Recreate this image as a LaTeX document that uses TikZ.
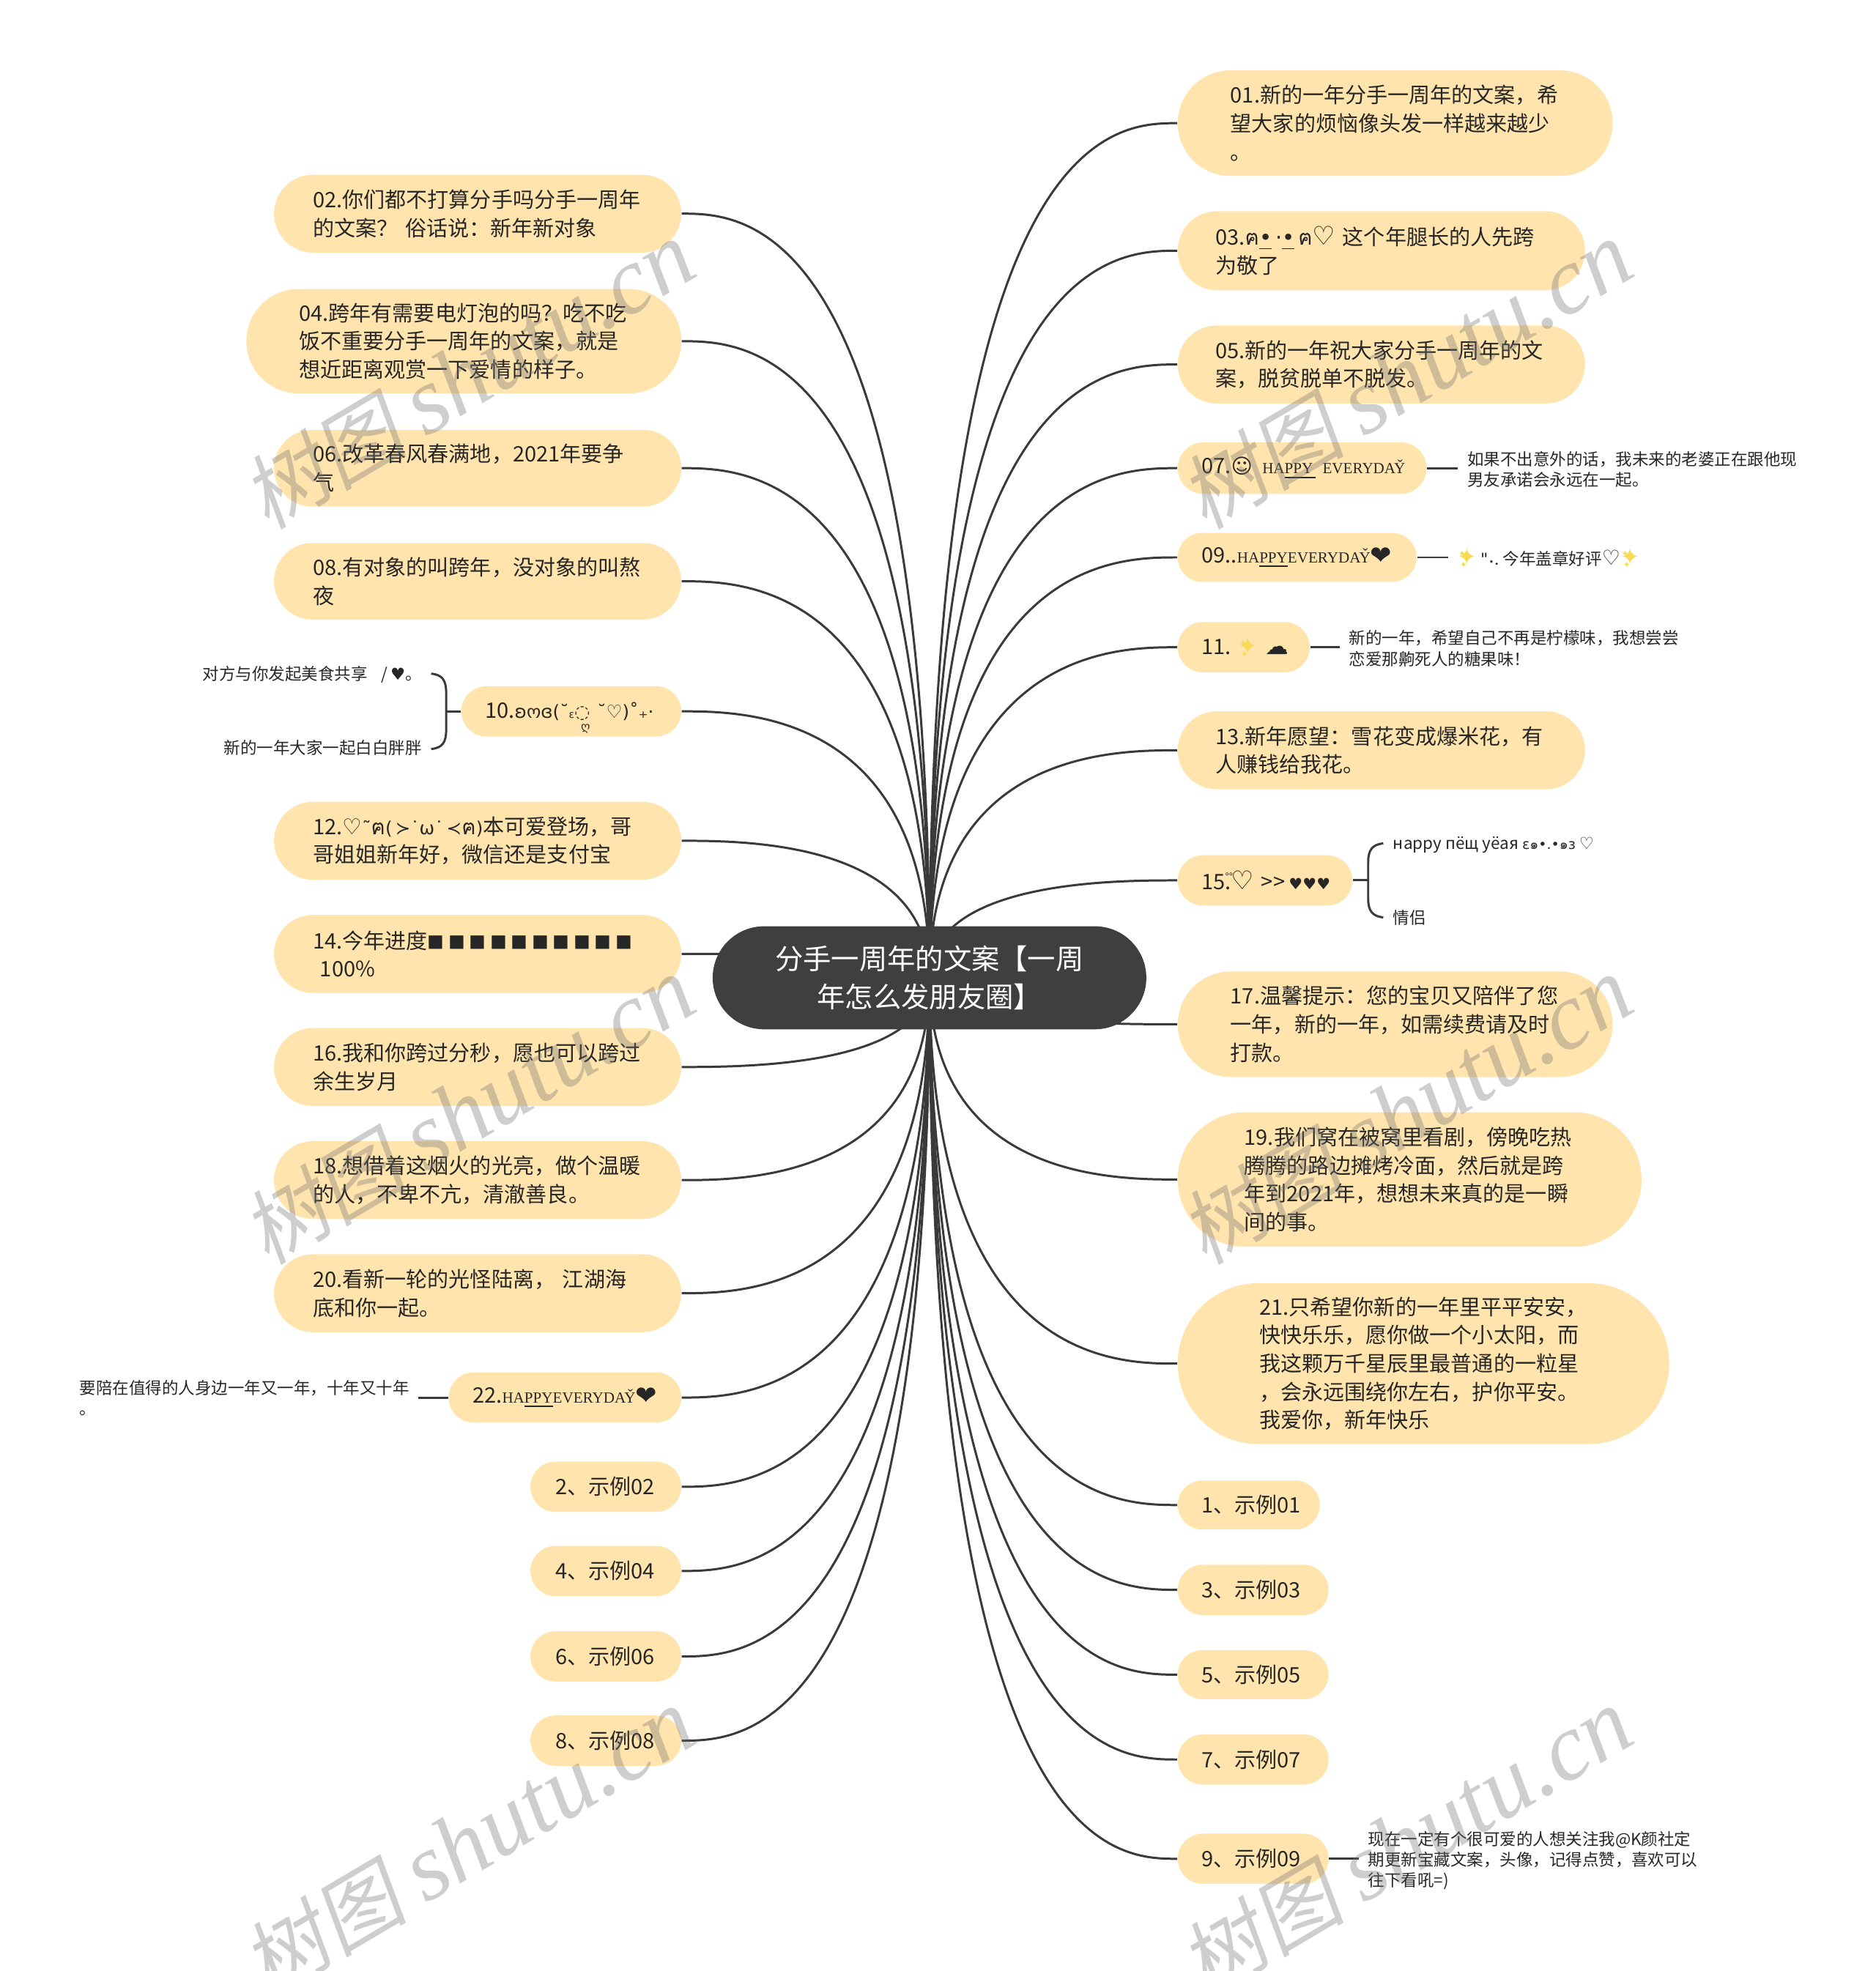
\documentclass[tikz,border=0pt]{standalone}
\usepackage{fontspec}
\usepackage{xcolor}
\setmainfont{Noto Sans CJK SC}
\newfontfamily\symf{DejaVu Sans}
\newfontfamily\thaif[Script=Thai]{Loma}
\newfontfamily\serf{Liberation Serif}
\newfontfamily\markcjk[FakeSlant=0.18]{Noto Sans CJK SC}
\newfontfamily\marklat{Liberation Serif}
\usetikzlibrary{arrows.meta,positioning,calc,backgrounds,shapes.misc}
\definecolor{pillfill}{HTML}{FFE4AD}
\definecolor{rootfill}{HTML}{3F3F3F}
\definecolor{wire}{HTML}{3A3A3A}
\definecolor{ink}{HTML}{262626}
\definecolor{sparkle}{HTML}{F7DB55}
\def\un{0.17158mm}
\newcommand{\spark}{{\color{sparkle}\symf\fontsize{9}{8}\selectfont ✦\llap{\raisebox{3pt}{\fontsize{3.5}{3}\selectfont ✦\kern4.2pt}}\llap{\raisebox{-1.2pt}{\fontsize{3.5}{3}\selectfont ✦\kern3.6pt}}}}
\newcommand{\happy}[1]{{\serf\fontsize{6}{7}\selectfont #1}}
\newcommand{\hrt}{{\symf\fontsize{10}{8}\selectfont ♡}}
\newcommand{\blk}{{\fontsize{6.5}{8}\selectfont ■\kern1.6pt}}
\newcommand{\bigheart}{\raisebox{-0.7pt}{\symf\fontsize{10}{8}\selectfont ❤}}
\begin{document}
\begin{tikzpicture}[
  x={(0.17158mm,0mm)},
  y={(0mm,-0.17158mm)},
  pill/.style n args={3}{rounded rectangle, fill=pillfill, text=ink, inner sep=0pt,
    text width={(#1-2*#3)*\un}, minimum width={#1*\un}, minimum height={#2*\un}, align=left,
    font=\fontsize{8.27}{11}\selectfont},
  rootpill/.style={rounded rectangle, fill=rootfill, text=white, inner sep=0pt,
    text width={263*\un}, minimum width={345*\un}, minimum height={82*\un}, align=center,
    font=\fontsize{10.9}{14.6}\selectfont},
  leaf/.style={text=ink, inner ysep=0pt, inner xsep={7*\un}, anchor=west, align=left,
    font=\fontsize{6.4}{8.05}\selectfont},
  conn/.style={draw=wire, line width=0.85pt},
  stamp/.style={text=black!55, opacity=0.35, rotate=30.6, inner sep=0pt}
]
\useasboundingbox (0,0) rectangle (1492,1568.3);

\node[rootpill] (root) at (739.5,778) {分手一周年的文案【一周\\年怎么发朋友圈】};

% right side
\node[pill={346}{84}{42}] (r01) at (1110,98) {01.新的一年分手一周年的文案，希\\望大家的烦恼像头发一样越来越少\\。};
\node[pill={324}{63}{30}] (r03) at (1099,199.5) {03.{\thaif ฅ}{\symf\underline{•}\,·\underline{•}}\,{\thaif ฅ}\hrt~这个年腿长的人先跨\\为敬了};
\node[pill={324}{62}{30}] (r05) at (1099,290) {05.新的一年祝大家分手一周年的文\\案，脱贫脱单不脱发。};
\node[pill={198}{41}{19}] (r07) at (1036,372.5) {\mbox{07.{\symf\fontsize{8}{8}\selectfont ☺}\hspace{1pt}~\happy{HA\underline{PPY\,}~EVERYDA\v{Y}}}};
\node[pill={190}{39}{19}] (r09) at (1032,443.5) {\mbox{09..\happy{HA\underline{PPY}EVERYDA\v{Y}}\bigheart}};
\node[pill={105}{40}{19}] (r11) at (989.5,515) {\mbox{11.~\spark\hspace{3pt}{\symf\fontsize{9}{8}\selectfont ☁}}};
\node[pill={324}{62}{30}] (r13) at (1099,597) {13.新年愿望：雪花变成爆米花，有\\人赚钱给我花。};
\node[pill={139}{40}{19}] (r15) at (1006.5,700.5) {\mbox{15\rlap{\raisebox{3.5pt}{\fontsize{4}{4}\selectfont °°}}.\hrt~>{}>\hspace{1.5pt}{\symf\fontsize{6}{8}\selectfont ♥♥♥}}};
\node[pill={346}{84}{42}] (r17) at (1110,815) {17.温馨提示：您的宝贝又陪伴了您\\一年，新的一年，如需续费请及时\\打款。};
\node[pill={369}{107}{53}] (r19) at (1121.5,938.5) {19.我们窝在被窝里看剧，傍晚吃热\\腾腾的路边摊烤冷面，然后就是跨\\年到2021年，想想未来真的是一瞬\\间的事。};
\node[pill={391}{128}{65}] (r21) at (1132.5,1085) {21.只希望你新的一年里平平安安，\\快快乐乐，愿你做一个小太阳，而\\我这颗万千星辰里最普通的一粒星\\，会永远围绕你左右，护你平安。\\我爱你，新年快乐};
\node[pill={113}{39}{19}] (r23) at (993.5,1197.5) {1、示例01};
\node[pill={120}{40}{19}] (r24) at (997,1265) {3、示例03};
\node[pill={120}{39}{19}] (r25) at (997,1332.5) {5、示例05};
\node[pill={120}{40}{19}] (r26) at (997,1400) {7、示例07};
\node[pill={120}{40}{19}] (r27) at (997,1479) {9、示例09};

% left side
\node[pill={324}{62}{31}] (l02) at (380,170) {02.你们都不打算分手吗分手一周年\\的文案？~俗话说：新年新对象};
\node[pill={346}{83}{42}] (l04) at (369,271.5) {04.跨年有需要电灯泡的吗？吃不吃\\饭不重要分手一周年的文案，就是\\想近距离观赏一下爱情的样子。};
\node[pill={324}{61}{31}] (l06) at (380,372.5) {06.改革春风春满地，2021年要争\\气};
\node[pill={324}{61}{31}] (l08) at (380,462.5) {08.有对象的叫跨年，没对象的叫熬\\夜};
\node[pill={175}{40}{19}] (l10) at (454.5,566) {\mbox{10.{\symf\fontsize{7}{8}\selectfont ʚოɞ(˘{\fontsize{4}{4}\selectfont ε}◌\llap{\raisebox{-5pt}[0pt][0pt]{\fontsize{4.5}{4}\selectfont ღ}}~˘♡)˚₊·}}};
\node[pill={324}{62}{31}] (l12) at (380,669) {12.{\symf\fontsize{8.5}{8}\selectfont ♡}{\symf\fontsize{7}{8}\selectfont ˜}{\thaif ฅ}{\symf\fontsize{7}{8}\selectfont (\,≻˙ω˙\,≺}{\thaif ฅ}{\symf\fontsize{7}{8}\selectfont )}本可爱登场，哥\\哥姐姐新年好，微信还是支付宝};
\node[pill={324}{62}{31}] (l14) at (380,759) {14.今年进度\blk\blk\blk\blk\blk\blk\blk\blk\blk\blk\\~100\%};
\node[pill={324}{62}{31}] (l16) at (380,849) {16.我和你跨过分秒，愿也可以跨过\\余生岁月};
\node[pill={324}{62}{31}] (l18) at (380,939) {18.想借着这烟火的光亮，做个温暖\\的人，不卑不亢，清澈善良。};
\node[pill={324}{62}{31}] (l20) at (380,1029) {20.看新一轮的光怪陆离，~江湖海\\底和你一起。};
\node[pill={185}{40}{19}] (l22) at (449.5,1112) {\mbox{22.\happy{HA\underline{PPY}EVERYDA\v{Y}}\bigheart}};
\node[pill={120}{40}{20}] (l24) at (482,1183) {2、示例02};
\node[pill={120}{40}{20}] (l25) at (482,1250) {4、示例04};
\node[pill={120}{40}{20}] (l26) at (482,1318) {6、示例06};
\node[pill={120}{40}{20}] (l27) at (482,1385) {8、示例08};

% small texts
\node[leaf] (t07) at (1160,373.5) {如果不出意外的话，我未来的老婆正在跟他现\\男友承诺会永远在一起。};
\node[leaf] (t09) at (1152,444) {\spark\hspace{1.5pt}{\symf "}{\symf\fontsize{4}{4}\selectfont ⋆}.\hspace{1.5pt}今年盖章好评{\symf\fontsize{8}{8}\selectfont ♡}\spark};
\node[leaf] (t11) at (1066,516) {新的一年，希望自己不再是柠檬味，我想尝尝\\恋爱那齁死人的糖果味！};
\node[leaf] (t27) at (1081,1480.5) {现在一定有个很可爱的人想关注我@K颜社定\\期更新宝藏文案，头像，记得点赞，喜欢可以\\往下看吼=)};
\node[leaf] (t22) at (56,1112.5) {要陪在值得的人身边一年又一年，十年又十年\\。};
\node[leaf, anchor=east, inner xsep=0pt] (t10a) at (336,537) {对方与你发起美食共享\hspace{4pt}~/\hspace{1pt}{\symf ♥}。};
\node[leaf, anchor=east, inner xsep=0pt] (t10b) at (336,595) {新的一年大家一起白白胖胖};
\node[leaf, inner xsep=0pt] (t15a) at (1108,672) {нappy пёщ уёая~{\symf\fontsize{5.4}{8}\selectfont ɛ}{\thaif\fontsize{5.4}{8}\selectfont ๑}{\symf\fontsize{5.4}{8}\selectfont •.•}{\thaif\fontsize{5.4}{8}\selectfont ๑}{\symf\fontsize{5.4}{8}\selectfont ɜ}~{\symf ♡}};
\node[leaf, inner xsep=0pt] (t15b) at (1108,730) {情侣};

\coordinate (j10) at (355,566);
\coordinate (j15) at (1088.5,700.5);

\begin{scope}[on background layer]
\foreach \n in {r01,r03,r05,r07,r09,r11,r13,r15,r17,r19,r21,r23,r24,r25,r26,r27} {
  \draw[conn] (root.center) .. controls (root.center |- \n.west) and ($(root.center |- \n.west)!0.75!(\n.west)$) .. (\n.west);
}
\foreach \n in {l02,l04,l06,l08,l10,l12,l14,l16,l18,l20,l22,l24,l25,l26,l27} {
  \draw[conn] (root.center) .. controls (root.center |- \n.east) and ($(root.center |- \n.east)!0.75!(\n.east)$) .. (\n.east);
}
\end{scope}

\draw[conn] (r07.east) -- (r07.east -| t07.west);
\draw[conn] (r09.east) -- (r09.east -| t09.west);
\draw[conn] (r11.east) -- (r11.east -| t11.west);
\draw[conn] (r27.east) -- (r27.east -| t27.west);
\draw[conn] (l22.west) -- (l22.west -| t22.east);

% the two brackets
\draw[conn] (l10.west) -- (j10);
\draw[conn] (343,536) .. controls (352,537) and (355,541) .. (355,552) -- (355,580) .. controls (355,591) and (352,595) .. (343,596);
\draw[conn] (r15.east) -- (j15);
\draw[conn] (1100.5,671) .. controls (1092,672) and (1088.5,676) .. (1088.5,686) -- (1088.5,715) .. controls (1088.5,725) and (1092,729) .. (1100.5,730);

% watermark
\foreach \px/\py/\k in {373/299/a,1119/299/b,373/884/c,1119/884/d,373/1466/e,1119/1466/f} {
  \node[stamp] (mark\k) at (\px,\py) {{\markcjk\fontsize{32}{40}\selectfont 树图}\hspace{5pt} {\marklat\itshape\fontsize{37}{40}\selectfont shutu.cn}};
}
\end{tikzpicture}
\end{document}
